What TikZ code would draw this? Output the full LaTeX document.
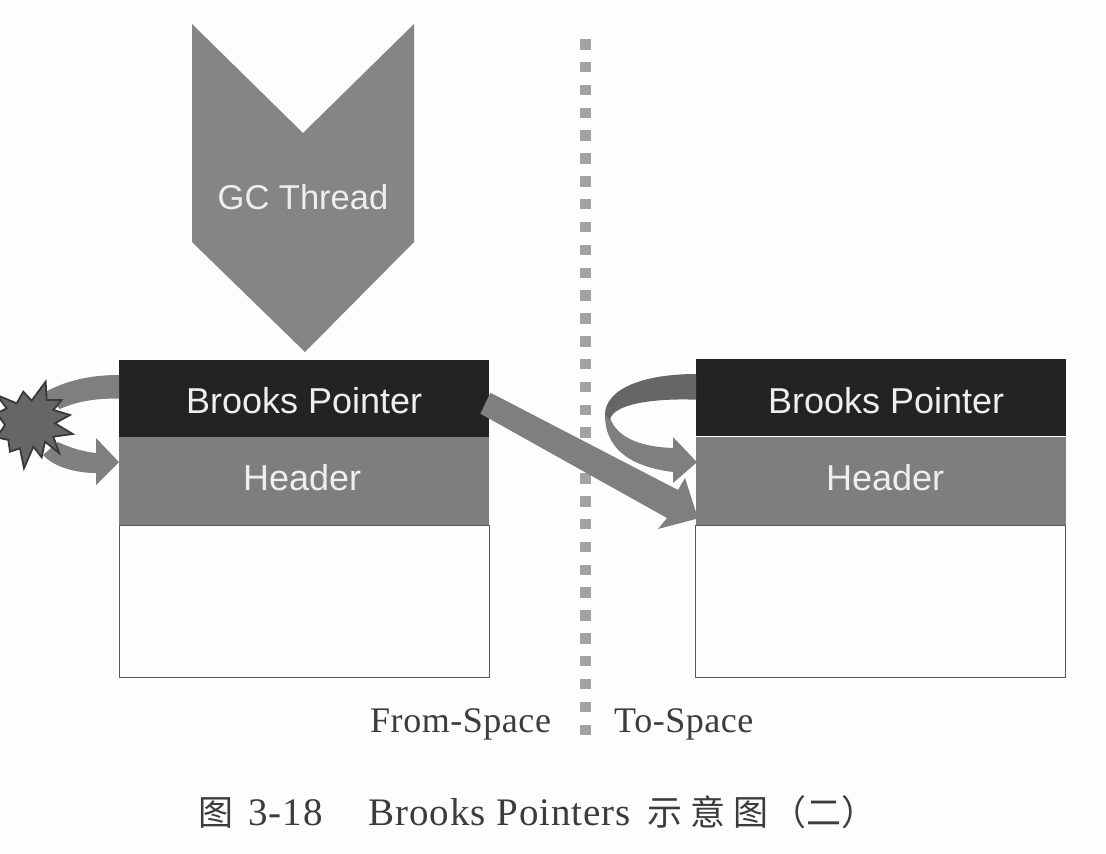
\documentclass[tikz,border=0pt]{standalone}
\usepackage{fontspec}
\setmainfont{Liberation Serif}
\setsansfont{Liberation Sans}
\newfontfamily\cjkfont{Noto Sans CJK SC}
\newfontfamily\spacedlabel[LetterSpace=1.5]{Liberation Serif}
\newfontfamily\spacedcap[LetterSpace=2.5]{Liberation Serif}
\usetikzlibrary{arrows.meta,calc}
\definecolor{ptrblack}{HTML}{232323}
\definecolor{hdrgray}{HTML}{7E7E7E}
\definecolor{arrowgray}{HTML}{7F7F7F}
\definecolor{arrowdark}{HTML}{666666}
\definecolor{threadgray}{HTML}{858585}
\definecolor{dotgray}{HTML}{A2A2A2}
\definecolor{inkgray}{HTML}{3C3C3C}
\definecolor{labelwhite}{HTML}{EEEEEE}
\definecolor{pagewhite}{HTML}{FDFDFD}
\tikzset{
  x=1pt,y=-1pt,
  boxpart/.style={rectangle,inner sep=0pt,minimum width=370pt,anchor=north west},
  ptrpart/.style={boxpart,fill=ptrblack,minimum height=77pt,text=labelwhite,text depth=0pt,font=\sffamily\fontsize{36}{40}\selectfont},
  hdrpart/.style={boxpart,fill=hdrgray,minimum height=88pt,text=labelwhite,text depth=0pt,text height=18pt,font=\sffamily\fontsize{36}{40}\selectfont},
  bodypart/.style={boxpart,draw=black!65,line width=1pt,fill=pagewhite,minimum height=152pt},
  blockshape/.style={fill=arrowgray},
  foldshape/.style={fill=arrowdark},
  spacelabel/.style={text=inkgray,font=\spacedlabel\fontsize{36}{40}\selectfont,inner sep=0pt,anchor=base west},
  captext/.style={text=inkgray,font=\spacedcap\fontsize{39}{44}\selectfont,inner sep=0pt,anchor=base west},
  capcjk/.style={text=inkgray,font=\cjkfont\fontsize{35}{42}\selectfont,inner sep=0pt,anchor=base west},
  sepdot/.style={fill=dotgray}
}
\begin{document}
\begin{tikzpicture}
\useasboundingbox[fill=pagewhite] (0,0) rectangle (1106,854);
% separator
\foreach \k in {0,...,30}{
  \fill[sepdot] ({580},{39+22.85*\k}) rectangle ({591},{49.5+22.85*\k});
}
% left block
\node[bodypart] (lbody) at (118.5,525) {};
\node[hdrpart] (lhdr) at (119,437) {\hspace{-4pt}Header};
\node[ptrpart,text height=29pt] (lptr) at (119,360) {Brooks Pointer};
% right block
\node[bodypart] (rbody) at (695,525) {};
\node[hdrpart] (rhdr) at (696,437) {\hspace{8pt}Header};
\node[ptrpart,text height=32pt] (rptr) at (696,359) {\hspace{10pt}Brooks Pointer};
% GC thread
\fill[threadgray] (192,24) -- (303,133) -- (414,24) -- (414,242) -- (305,352) -- (192,242) -- cycle;
\node[text=labelwhite,font=\sffamily\fontsize{34.5}{40}\selectfont,inner sep=0pt] (gc) at (303,197) {GC Thread};
% left self arrow, through the burst
\fill[blockshape] ($(lptr.north west)+(0,15)$) .. controls (92,375) and (65,380) .. (42,394)
  -- (60,409) .. controls (75,402) and (95,398) .. ($(lptr.west)$) -- cycle;
\fill[blockshape] (58,442) .. controls (70,448) and (85,452) .. (96,453) -- (96,438)
  -- ($(lhdr.west)+(0,-19)$) -- (96,485) -- (96,473) .. controls (78,473) and (55,468) .. (43,455) -- cycle;
% burst
\begin{scope}[shift={(0,340)},x=0.3333pt,y=-0.3333pt]
\filldraw[fill=arrowdark,draw=ptrblack!90,line width=1.8pt,line join=miter]
 (70,155) -- (95,182) -- (137,125) -- (140,180) -- (185,180) -- (160,210) -- (210,225) -- (165,250)
 -- (218,282) -- (160,290) -- (178,340) -- (135,305) -- (125,352) -- (100,320) -- (72,385) -- (60,325)
 -- (30,335) -- (25,300) -- (-10,292) -- (15,255) -- (-10,220) -- (20,205) -- (-10,165) -- (50,190) -- cycle;
\end{scope}
% right self arrow
\fill[blockshape] (605,415) .. controls (605,445) and (625,466) .. (673,472) -- (673,483)
  -- ($(rhdr.west)+(1,-19)$) -- (673,437) -- (673,448) .. controls (645,447) and (618,440) .. (610,418) -- cycle;
\fill[foldshape] ($(rptr.north west)+(0,15)$) .. controls (645,374) and (605,388) .. (605,415)
  -- (610,420) .. controls (612,405) and (650,398) .. ($(rptr.west)+(0,2)$) -- cycle;
% crossing arrow
\fill[blockshape] ($(lptr.east)+(1,-6)$) -- (678,490) -- (685,478) -- ($(rhdr.south west)+(2,-7)$)
  -- (658,529) -- (667,518) -- ($(lptr.east)+(-9,15)$) -- cycle;
% labels
\node[spacelabel] (from) at (370,732) {From-Space};
\node[spacelabel] (to) at (614,732) {To-Space};
\node[capcjk] (c1) at (198,825) {图};
\node[captext] (c2) at (248,825) {3-18};
\node[captext] (c3) at (368,825) {Brooks Pointers};
\node[capcjk] (c4) at (647,825) {示\hspace{8pt}意\hspace{8pt}图};
\node[capcjk] (c5) at (771,825) {（二）};
\end{tikzpicture}
\end{document}
